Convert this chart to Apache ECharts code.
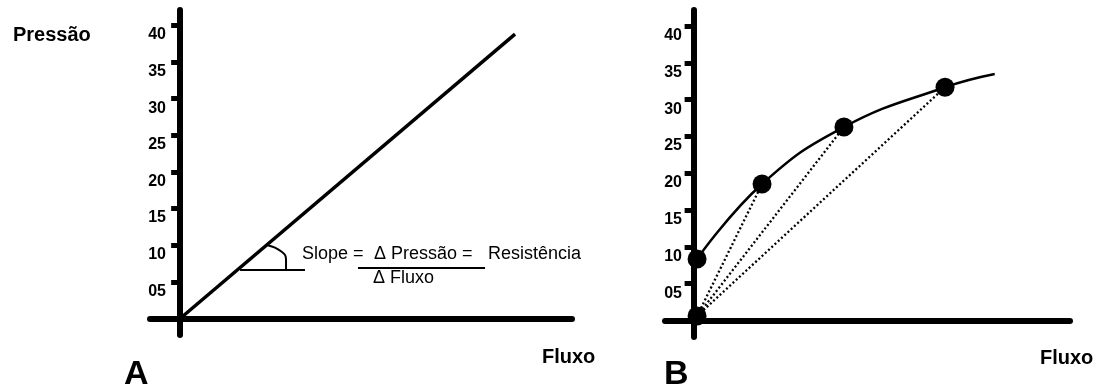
<!DOCTYPE html>
<html>
<head>
<meta charset="utf-8">
<script src="https://cdn.jsdelivr.net/npm/echarts@6/dist/echarts.min.js"></script>
<style>
html,body{margin:0;padding:0;background:#fff;}
#chart{width:1105px;height:392px;}
</style>
</head>
<body>
<div id="chart"></div>
<script>
// ---- data ----
const yTickValues = [5, 10, 15, 20, 25, 30, 35, 40];

// Panel A
const resistLineX = [0, 44.44];
const resistLineY = [0, 38.81];
const angleBaseX = [7.95, 16.57];
const angleBaseY = [6.62, 6.62];
const angleArcX = [11.51, 13.48, 14.05, 14.05];
const angleArcY = [10.03, 9.11, 7.98, 6.62];
const fractionX = [23.6, 40.46];
const fractionY = [6.89, 6.89];

// Panel B
const curveX = [0.46, 9.09, 19.97, 33.4, 40.0];
const curveY = [8.36, 18.55, 26.29, 31.7, 33.5];
const pointX = [0.46, 0.46, 9.09, 19.97, 33.4];
const pointY = [0.61, 8.36, 18.55, 26.29, 31.7];
const chordTargets = [2, 3, 4];

// ---- helpers ----
const zip = (xs, ys) => xs.map((x, i) => [x, ys[i]]);
const FONT = '"Liberation Sans", Arial, sans-serif';
const fmt = v => (v < 10 ? '0' + v : '' + v);

function yAxisCfg(gridIndex, min, max, margin) {
  return {
    type: 'value', gridIndex, min, max,
    axisLine: { show: true, onZero: true, lineStyle: { color: '#000', width: 6 } },
    axisTick: { show: true, length: 9, customValues: yTickValues, lineStyle: { color: '#000', width: 5 } },
    axisLabel: {
      show: true, customValues: yTickValues, formatter: fmt, margin,
      color: '#000', fontFamily: FONT, fontWeight: 'bold', fontSize: 16,
      verticalAlign: 'top', lineHeight: 19
    },
    splitLine: { show: false }
  };
}
function xAxisCfg(gridIndex, min, max) {
  return {
    type: 'value', gridIndex, min, max,
    axisLine: { show: true, onZero: true, lineStyle: { color: '#000', width: 6 } },
    axisTick: { show: false }, axisLabel: { show: false }, splitLine: { show: false }
  };
}
function lineSeries(xi, yi, data, width, extra) {
  return Object.assign({
    type: 'line', xAxisIndex: xi, yAxisIndex: yi, data,
    symbol: 'none', silent: true, clip: false,
    lineStyle: { color: '#000', width }
  }, extra || {});
}

const series = [
  lineSeries(0, 0, zip(resistLineX, resistLineY), 3.5),
  lineSeries(0, 0, zip(angleBaseX, angleBaseY), 2),
  lineSeries(0, 0, zip(angleArcX, angleArcY), 2, { smooth: 0.5 }),
  lineSeries(0, 0, zip(fractionX, fractionY), 2),
  lineSeries(1, 1, zip(curveX, curveY), 2.5, { smooth: 0.45 })
];
chordTargets.forEach(i => {
  series.push(lineSeries(1, 1, [[pointX[0], pointY[0]], [pointX[i], pointY[i]]], 2,
    { lineStyle: { color: '#000', width: 2.3, type: [2, 2.4] } }));
});
series.push({
  type: 'scatter', xAxisIndex: 1, yAxisIndex: 1, data: zip(pointX, pointY),
  symbol: 'circle', symbolSize: 19, itemStyle: { color: '#000', opacity: 1 }, clip: false, silent: true
});

const txt = (left, top, text, size, weight, extra) => ({
  type: 'text', left, top,
  style: Object.assign({ text, fill: '#000', font: (weight || 'normal') + ' ' + size + 'px ' + FONT }, extra || {})
});

const chart = echarts.init(document.getElementById('chart'), null, { renderer: 'canvas' });
chart.setOption({
  animation: false,
  backgroundColor: '#fff',
  grid: [
    { left: 150, top: 10, width: 422, height: 325, containLabel: false },
    { left: 665, top: 10, width: 405, height: 327, containLabel: false }
  ],
  xAxis: [xAxisCfg(0, -4, 52), xAxisCfg(1, -3.8, 50)],
  yAxis: [yAxisCfg(0, -2.25, 42.09, -16), yAxisCfg(1, -2.24, 42.19, -17)],
  series,
  graphic: [
    txt(13, 25, 'Pressão', 20, 'bold'),
    txt(542, 347, 'Fluxo', 20, 'bold'),
    txt(1040, 348, 'Fluxo', 20, 'bold'),
    txt(124, 358, 'A', 34, 'bold'),
    txt(664, 358, 'B', 34, 'bold'),
    txt(302, 245, 'Slope =', 18),
    txt(374, 245, 'Δ Pressão =', 18),
    txt(488, 245, 'Resistência', 18),
    txt(373, 269, 'Δ Fluxo', 18)
  ]
});
</script>
</body>
</html>
